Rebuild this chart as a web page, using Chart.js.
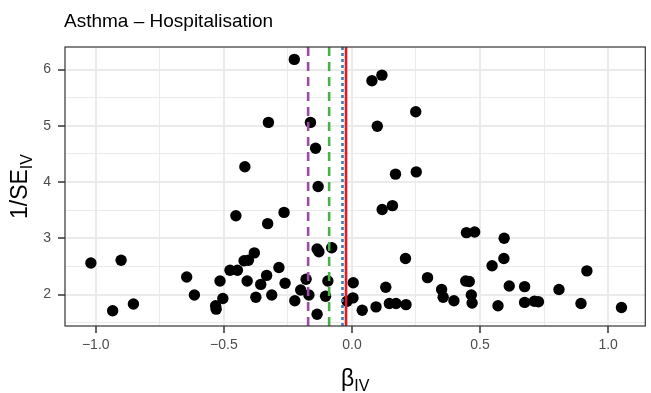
<!DOCTYPE html>
<html>
<head>
<meta charset="utf-8">
<script src="https://cdn.jsdelivr.net/npm/chart.js@4.4.1/dist/chart.umd.min.js"></script>
<style>
  html, body { margin: 0; padding: 0; background: #fff; }
  #wrap { width: 651px; height: 393px; }
</style>
</head>
<body>
<div id="wrap"><canvas id="c" width="651" height="393"></canvas></div>
<script>
// per-SNP IV estimates (x) and precision 1/SE (y)
const betaIV = [
  -1.019, -0.934, -0.901, -0.853, -0.645, -0.615, -0.532, -0.530, -0.515, -0.504,
  -0.476, -0.453, -0.447, -0.421, -0.418, -0.409, -0.404, -0.381, -0.375, -0.356,
  -0.333, -0.329, -0.326, -0.313, -0.285, -0.265, -0.261, -0.225, -0.223, -0.200,
  -0.179, -0.168, -0.162, -0.142, -0.136, -0.136, -0.129, -0.132, -0.103, -0.094,
  -0.079, -0.019, 0.004, 0.005, 0.040, 0.078, 0.094, 0.099, 0.117, 0.118,
  0.132, 0.146, 0.158, 0.170, 0.172, 0.209, 0.211, 0.249, 0.251, 0.295,
  0.350, 0.356, 0.398, 0.444, 0.458, 0.447, 0.466, 0.469, 0.479, 0.547,
  0.570, 0.593, 0.594, 0.614, 0.674, 0.674, 0.712, 0.728, 0.808, 0.894,
  0.917, 1.052
];
const invSE = [
  2.56, 1.71, 2.61, 1.83, 2.31, 1.99, 1.80, 1.74, 2.24, 1.93,
  2.43, 3.40, 2.43, 2.60, 4.27, 2.24, 2.61, 2.74, 1.95, 2.18,
  2.34, 3.26, 5.06, 1.99, 2.48, 3.46, 2.20, 6.18, 1.89, 2.08,
  2.27, 1.99, 5.06, 4.60, 1.65, 2.81, 2.76, 3.92, 1.97, 2.24,
  2.83, 1.88, 1.94, 2.21, 1.72, 5.80, 1.78, 4.99, 5.90, 3.51,
  2.13, 1.84, 3.58, 4.14, 1.84, 2.64, 1.82, 5.25, 4.18, 2.30,
  2.09, 1.95, 1.89, 2.24, 2.23, 3.10, 1.99, 1.85, 3.11, 2.51,
  1.80, 2.64, 3.00, 2.15, 2.14, 1.86, 1.88, 1.87, 2.09, 1.84,
  2.42, 1.77
];

// summary estimates shown as vertical lines
const refLabels = ['est1', 'est2', 'est3', 'est4'];
const refValues = [-0.171, -0.089, -0.037, -0.023];
const refColors = ['#984EA3', '#4DAF4A', '#377EB8', '#E41A1C'];
const refDashes = [[9, 6], [9, 6], [3, 3], []];

const xMajor = [-1.0, -0.5, 0.0, 0.5, 1.0];
const xMinor = [-0.75, -0.25, 0.25, 0.75];
const xTickLabels = ['\u22121.0', '\u22120.5', '0.0', '0.5', '1.0'];
const yMajor = [2, 3, 4, 5, 6];
const yMinor = [1.5, 2.5, 3.5, 4.5, 5.5];
const yTickLabels = ['2', '3', '4', '5', '6'];

const xRange = [-1.12, 1.145];
const yRange = [1.44, 6.40];

const FONT = '"Liberation Sans", Arial, sans-serif';

const points = betaIV.map((b, i) => ({ x: b, y: invSE[i] }));

const lineSets = refValues.map((v, i) => ({
  label: refLabels[i],
  data: [{ x: v, y: yRange[0] }, { x: v, y: yRange[1] }],
  showLine: true,
  borderColor: refColors[i],
  borderWidth: 2.6,
  borderDash: refDashes[i],
  pointRadius: 0,
  order: 0
}));

function isIn(list, v) {
  return list.some(m => Math.abs(m - v) < 1e-9);
}

const decor = {
  id: 'decor',
  afterDraw(chart) {
    const ctx = chart.ctx;
    const a = chart.chartArea;
    ctx.save();
    // panel border
    ctx.strokeStyle = '#333333';
    ctx.lineWidth = 1.2;
    ctx.strokeRect(a.left, a.top, a.right - a.left, a.bottom - a.top);

    // title
    ctx.fillStyle = '#000';
    ctx.textAlign = 'left';
    ctx.textBaseline = 'alphabetic';
    ctx.font = '19px ' + FONT;
    ctx.fillText('Asthma \u2013 Hospitalisation', 64, 27);

    // x axis title: beta with subscript IV
    const mainF = '23px ' + FONT, subF = '16px ' + FONT;
    ctx.font = mainF;
    const wb = ctx.measureText('\u03B2').width;
    ctx.font = subF;
    const ws = ctx.measureText('IV').width;
    const cx = (a.left + a.right) / 2;
    let x0 = cx - (wb + ws) / 2;
    ctx.font = mainF;
    ctx.fillText('\u03B2', x0, 386);
    ctx.font = subF;
    ctx.fillText('IV', x0 + wb, 391);

    // y axis title: 1/SE with subscript IV
    const cy = (a.top + a.bottom) / 2;
    ctx.translate(27, cy);
    ctx.rotate(-Math.PI / 2);
    ctx.font = mainF;
    const wm = ctx.measureText('1/SE').width;
    ctx.font = subF;
    const ws2 = ctx.measureText('IV').width;
    x0 = -(wm + ws2) / 2;
    ctx.font = mainF;
    ctx.fillText('1/SE', x0, 0);
    ctx.font = subF;
    ctx.fillText('IV', x0 + wm, 5);
    ctx.restore();
  }
};

new Chart(document.getElementById('c'), {
  type: 'scatter',
  data: {
    datasets: [
      ...lineSets,
      {
        label: 'SNPs',
        data: points,
        backgroundColor: '#000',
        borderWidth: 0,
        pointRadius: 5.7,
        pointHoverRadius: 5.7,
        order: 1
      }
    ]
  },
  options: {
    responsive: false,
    animation: false,
    devicePixelRatio: 1,
    events: [],
    layout: { padding: { top: 47, right: 3, left: 0, bottom: 0 } },
    plugins: {
      legend: { display: false },
      tooltip: { enabled: false },
      title: { display: false }
    },
    scales: {
      x: {
        type: 'linear',
        min: xRange[0],
        max: xRange[1],
        afterBuildTicks(scale) {
          scale.ticks = [...xMajor, ...xMinor].sort((p, q) => p - q).map(v => ({ value: v }));
        },
        afterFit(scale) { scale.height = 67; },
        border: { display: false },
        grid: {
          color: '#EBEBEB',
          lineWidth: c => isIn(xMajor, c.tick.value) ? 2 : 1,
          tickColor: c => isIn(xMajor, c.tick.value) ? '#333333' : 'rgba(0,0,0,0)',
          tickLength: 7,
          tickWidth: 1.5
        },
        ticks: {
          autoSkip: false,
          maxRotation: 0,
          padding: 4,
          color: '#4D4D4D',
          font: { family: FONT, size: 14 },
          callback: v => {
            const i = xMajor.findIndex(m => Math.abs(m - v) < 1e-9);
            return i >= 0 ? xTickLabels[i] : '';
          }
        }
      },
      y: {
        type: 'linear',
        min: yRange[0],
        max: yRange[1],
        afterBuildTicks(scale) {
          scale.ticks = [...yMajor, ...yMinor].sort((p, q) => p - q).map(v => ({ value: v }));
        },
        afterFit(scale) { scale.width = 65; },
        border: { display: false },
        grid: {
          color: '#EBEBEB',
          lineWidth: c => isIn(yMajor, c.tick.value) ? 2 : 1,
          tickColor: c => isIn(yMajor, c.tick.value) ? '#333333' : 'rgba(0,0,0,0)',
          tickLength: 7,
          tickWidth: 1.5
        },
        ticks: {
          autoSkip: false,
          padding: 7,
          color: '#4D4D4D',
          font: { family: FONT, size: 14 },
          callback: v => {
            const i = yMajor.findIndex(m => Math.abs(m - v) < 1e-9);
            return i >= 0 ? yTickLabels[i] : '';
          }
        }
      }
    }
  },
  plugins: [decor]
});
</script>
</body>
</html>
